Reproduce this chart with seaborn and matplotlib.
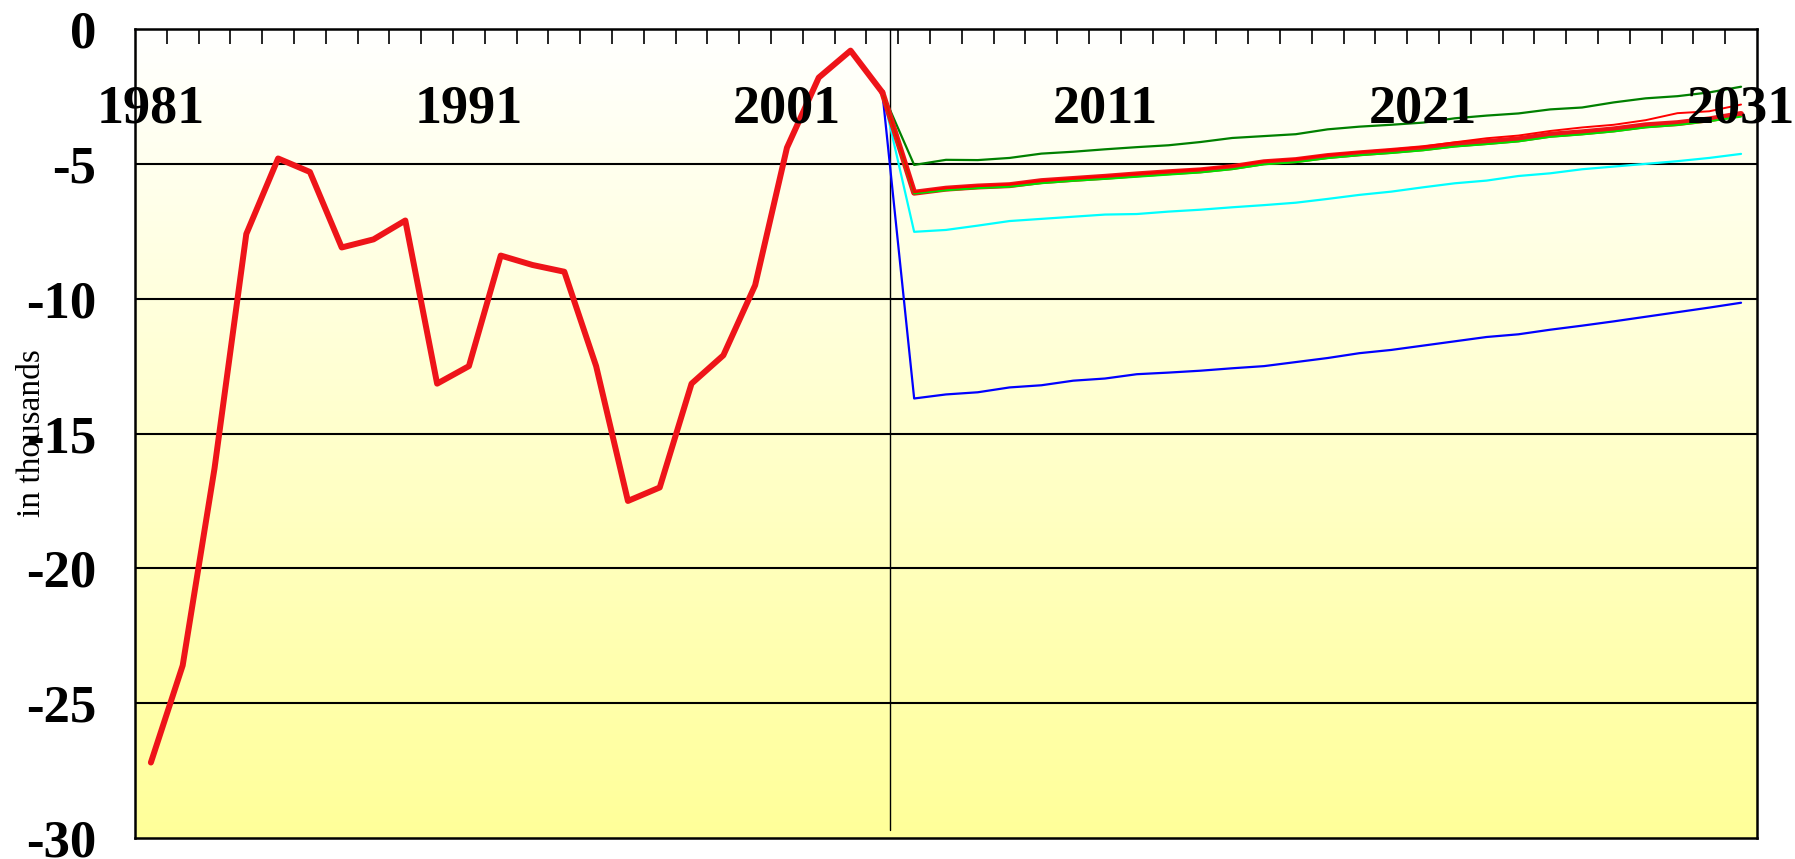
import numpy as np
import matplotlib
matplotlib.use("Agg")
import matplotlib.pyplot as plt
import matplotlib.transforms as mtransforms
from matplotlib.colors import LinearSegmentedColormap
import seaborn as sns

# --- data (in thousands) ---
years_hist = list(range(1981, 2005))
hist = [-27.2, -23.6, -16.3, -7.6, -4.8, -5.3, -8.1, -7.8, -7.1, -13.15,
        -12.5, -8.4, -8.75, -9.0, -12.5, -17.5, -17.0, -13.15, -12.1, -9.5,
        -4.4, -1.8, -0.8, -2.35]

years_proj = list(range(2004, 2032))
proj_main = [-2.35, -6.07, -5.92, -5.84, -5.79, -5.64, -5.56, -5.48, -5.39, -5.31,
             -5.24, -5.12, -4.94, -4.86, -4.71, -4.61, -4.52, -4.42, -4.28, -4.19,
             -4.09, -3.92, -3.83, -3.72, -3.57, -3.49, -3.35, -3.15]
proj_high = [-2.35, -5.04, -4.85, -4.86, -4.78, -4.62, -4.55, -4.46, -4.38, -4.31,
             -4.19, -4.04, -3.97, -3.90, -3.72, -3.62, -3.55, -3.47, -3.31, -3.21,
             -3.13, -2.98, -2.91, -2.72, -2.57, -2.49, -2.35, -2.14]
proj_red2 = [-2.35, -6.05, -5.90, -5.82, -5.76, -5.62, -5.54, -5.46, -5.37, -5.28,
             -5.20, -5.08, -4.90, -4.82, -4.67, -4.56, -4.47, -4.36, -4.20, -4.05,
             -3.95, -3.78, -3.65, -3.55, -3.38, -3.12, -3.05, -2.80]
proj_green2 = [-2.35, -6.10, -5.98, -5.90, -5.85, -5.72, -5.63, -5.56, -5.48, -5.40,
               -5.32, -5.20, -5.02, -4.94, -4.79, -4.68, -4.60, -4.50, -4.36, -4.27,
               -4.17, -4.00, -3.91, -3.80, -3.65, -3.56, -3.42, -3.25]
proj_cyan = [-2.35, -7.52, -7.45, -7.29, -7.12, -7.04, -6.96, -6.88, -6.86, -6.77,
             -6.70, -6.61, -6.53, -6.44, -6.30, -6.15, -6.03, -5.87, -5.72, -5.62,
             -5.45, -5.35, -5.20, -5.10, -5.00, -4.90, -4.78, -4.63]
proj_low = [-2.35, -13.70, -13.55, -13.47, -13.29, -13.21, -13.04, -12.96, -12.80, -12.74,
            -12.67, -12.58, -12.50, -12.35, -12.20, -12.02, -11.90, -11.74, -11.58, -11.42,
            -11.32, -11.15, -11.00, -10.84, -10.67, -10.50, -10.33, -10.15]

year_labels = [1981, 1991, 2001, 2011, 2021, 2031]
y_ticks = [0, -5, -10, -15, -20, -25, -30]

sns.set_style("white")
plt.rcParams['font.family'] = ['Liberation Serif', 'DejaVu Serif']
plt.rcParams['text.color'] = 'black'
plt.rcParams['axes.labelcolor'] = 'black'
plt.rcParams['xtick.color'] = 'black'
plt.rcParams['ytick.color'] = 'black'

fig = plt.figure(figsize=(17.95, 8.59), dpi=100)
ax = fig.add_axes([0.0752, 0.0244, 0.9036, 0.9418])
ax.set_facecolor('none')

# background gradient white -> pale yellow
bg = LinearSegmentedColormap.from_list('bg', ['#FFFFFF', '#FFFF99'])
ax.imshow(np.linspace(0, 1, 256).reshape(-1, 1), extent=[1980.5, 2031.5, -30, 0],
          aspect='auto', cmap=bg, origin='upper', zorder=0)

for yv in y_ticks[1:-1]:
    ax.axhline(yv, color='black', lw=1.5, zorder=1)

ax.plot([2004.24, 2004.24], [0, -29.7], color='black', lw=1.0, zorder=2)

red = '#EE1419'
sns.lineplot(x=years_proj, y=proj_cyan, ax=ax, color='#00FFFF', lw=1.6, zorder=3)
sns.lineplot(x=years_proj, y=proj_low, ax=ax, color='#0000FF', lw=1.6, zorder=3)
sns.lineplot(x=years_proj, y=proj_high, ax=ax, color='#008000', lw=1.6, zorder=3)
sns.lineplot(x=years_proj, y=proj_main, ax=ax, color=red, lw=4.3, zorder=4)
sns.lineplot(x=years_proj, y=proj_green2, ax=ax, color='#00E000', lw=1.4, zorder=5)
sns.lineplot(x=years_proj, y=proj_red2, ax=ax, color='#FF0000', lw=1.4, zorder=5)
sns.lineplot(x=years_hist, y=hist, ax=ax, color=red, lw=4.3, zorder=6)

ax.set_xlim(1980.5, 2031.5)
ax.set_ylim(-30, 0)

# category boundary tick marks along the top
ax.xaxis.tick_top()
ax.set_xticks(np.arange(1981.5, 2031, 1.0))
ax.tick_params(axis='x', direction='in', length=11, width=1.2, labeltop=False,
               labelbottom=False)
trans = mtransforms.blended_transform_factory(ax.transData, ax.transAxes)
for yr in year_labels:
    ax.text(yr, 0.884, str(yr), transform=trans, ha='center', va='baseline',
            fontsize=39, fontweight='bold', zorder=7)

ax.set_yticks(y_ticks)
ax.set_yticklabels([str(v) for v in y_ticks], fontsize=38, fontweight='bold')
ax.tick_params(axis='y', direction='out', length=12, width=1.5, pad=16)

ax.set_ylabel('in thousands', fontsize=24)
ax.yaxis.set_label_coords(-0.0545, 0.5)

for side in ['left', 'right', 'top', 'bottom']:
    ax.spines[side].set_visible(True)
    ax.spines[side].set_color('black')
    ax.spines[side].set_linewidth(1.8)
    ax.spines[side].set_zorder(8)

fig.savefig('out.png', dpi=100)
